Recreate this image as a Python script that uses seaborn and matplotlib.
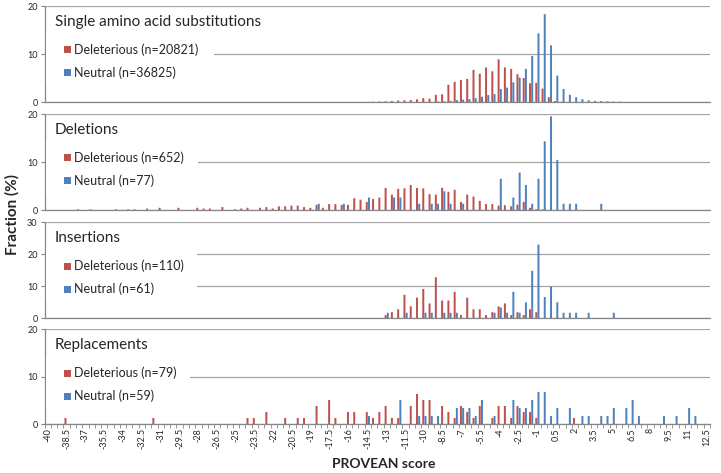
import numpy as np
import pandas as pd
import seaborn as sns
import matplotlib.pyplot as plt
from matplotlib.patches import Rectangle

# PROVEAN score bins (0.5 wide), labelled every 3rd bin
scores = np.arange(-40, 12.51, 0.5)
score_labels = [f"{s:g}" for s in scores]
tick_labels = score_labels[::3]

# Fraction (%) per bin (missing bins = 0)
sas_del = {-14: 0.05, -13.5: 0.1, -13: 0.15, -12.5: 0.2, -12: 0.3, -11.5: 0.35, -11: 0.4,
           -10.5: 0.55, -10: 0.8, -9.5: 0.7, -9: 1.5, -8.5: 1.6, -8: 3.6, -7.5: 4.2, -7: 4.6,
           -6.5: 4.8, -6: 6.7, -5.5: 5.9, -5: 7.2, -4.5: 6.4, -4: 8.9, -3.5: 7.2, -3: 6.9,
           -2.5: 5.8, -2: 5.0, -1.5: 3.9, -1: 4.0, -0.5: 2.8, 0: 1.0, 0.5: 0.2, 1: 0.05}
sas_neu = {-9: 0.1, -8.5: 0.15, -8: 0.25, -7.5: 0.4, -7: 0.5, -6.5: 0.6, -6: 0.8, -5.5: 1.1,
           -5: 1.45, -4.5: 1.65, -4: 2.7, -3.5: 3.0, -3: 4.1, -2.5: 5.1, -2: 6.9, -1.5: 9.6,
           -1: 14.3, -0.5: 18.3, 0: 11.8, 0.5: 5.5, 1: 2.7, 1.5: 1.5, 2: 1.0, 2.5: 0.6,
           3: 0.35, 3.5: 0.25, 4: 0.2, 4.5: 0.15, 5: 0.1, 5.5: 0.05}

del_del = {-37.5: 0.15, -36.5: 0.15, -34.5: 0.15, -33.5: 0.15, -33: 0.15, -32: 0.3, -31: 0.46,
           -29.5: 0.46, -28: 0.46, -27.5: 0.3, -27: 0.3, -26: 0.61, -25: 0.15, -24.5: 0.3,
           -24: 0.46, -23: 0.46, -22.5: 0.61, -22: 0.31, -21.5: 0.77, -21: 0.77, -20.5: 0.92,
           -20: 0.92, -19.5: 0.61, -19: 0.46, -18.5: 1.07, -18: 0.46, -17.5: 1.23, -17: 1.23,
           -16.5: 1.07, -16: 1.07, -15.5: 2.45, -15: 2.15, -14.5: 1.69, -14: 2.3, -13.5: 2.6,
           -13: 4.6, -12.5: 3.2, -12: 4.4, -11.5: 4.5, -11: 5.2, -10.5: 4.6, -10: 4.5,
           -9.5: 3.3, -9: 3.2, -8.5: 4.6, -8: 3.8, -7.5: 4.2, -7: 1.7, -6.5: 3.2, -6: 2.8,
           -5.5: 1.9, -5: 1.23, -4.5: 1.23, -4: 0.92, -3.5: 1.0, -3: 0.77, -2.5: 1.1,
           -2: 1.69, -1.5: 0.46, -1: 0.15, -0.5: 0.15}
del_neu = {-18.5: 1.3, -16.5: 1.3, -14.5: 2.6, -12.5: 2.6, -12: 2.6, -10.5: 1.3, -9.5: 1.3,
           -9: 1.3, -8.5: 3.9, -8: 1.3, -7: 1.3, -4: 6.5, -3: 2.6, -2.5: 7.8, -2: 5.2,
           -1.5: 1.3, -1: 6.5, -0.5: 14.3, 0: 19.5, 0.5: 10.4, 1: 1.3, 1.5: 1.3, 2: 1.3, 4: 1.3}

ins_del = {-13: 0.91, -12.5: 1.82, -12: 2.73, -11.5: 7.27, -11: 3.64, -10.5: 6.36, -10: 9.09,
           -9.5: 4.55, -9: 12.73, -8.5: 5.45, -8: 5.45, -7.5: 8.18, -7: 0.91, -6.5: 6.36,
           -6: 2.73, -5.5: 2.73, -5: 0.91, -4.5: 1.82, -4: 3.64, -3.5: 4.55, -3: 0.91,
           -2.5: 1.82, -2: 0.91, -1.5: 2.73, -1: 1.82}
ins_neu = {-13: 1.64, -11.5: 1.64, -10: 1.64, -9.5: 1.64, -8.5: 1.64, -8: 1.64, -7.5: 1.64,
           -4.5: 1.64, -4: 3.28, -3.5: 1.64, -3: 8.2, -2.5: 1.64, -2: 4.92, -1.5: 14.75,
           -1: 22.95, -0.5: 6.56, 0: 9.84, 0.5: 4.92, 1: 1.64, 1.5: 1.64, 2: 1.64, 3: 1.64,
           5: 1.64}

rep_del = {-38.5: 1.27, -31.5: 1.27, -24: 1.27, -23.5: 1.27, -22.5: 2.53, -21: 1.27, -20: 1.27,
           -19.5: 1.27, -18.5: 3.8, -17.5: 5.06, -17: 1.27, -16: 2.53, -15.5: 2.53,
           -14.5: 2.53, -14: 1.27, -13.5: 2.53, -13: 3.8, -12.5: 1.27, -12: 1.27, -11: 3.8,
           -10.5: 6.33, -10: 5.06, -9.5: 5.06, -8.5: 3.8, -8: 2.53, -7.5: 1.27, -7: 3.8,
           -6.5: 2.53, -6: 1.27, -5.5: 3.8, -4.5: 1.27, -4: 3.8, -3.5: 3.8, -3: 1.27,
           -2.5: 3.8, -2: 2.53, -1.5: 2.53, -1: 1.27, 2: 1.27}
rep_neu = {-14.5: 1.69, -12: 5.07, -10.5: 1.69, -10: 1.69, -9.5: 1.69, -9: 1.69, -7.5: 3.38,
           -7: 3.38, -6.5: 3.38, -6: 1.69, -5.5: 5.07, -4.5: 1.69, -3: 5.07, -2.5: 3.38,
           -2: 3.38, -1.5: 5.07, -1: 6.76, -0.5: 6.76, 0: 1.69, 0.5: 3.38, 1.5: 3.38,
           2.5: 1.69, 3: 1.69, 4: 1.69, 4.5: 1.69, 5: 3.38, 6: 3.38, 6.5: 5.07, 7: 1.69,
           9: 1.69, 10: 1.69, 11: 3.38, 11.5: 1.69}

titles = ["Single amino acid substitutions", "Deletions", "Insertions", "Replacements"]
n_del = [20821, 652, 110, 79]
n_neu = [36825, 77, 61, 59]
y_max = [20, 20, 30, 20]

RED = "#C0504D"
BLUE = "#4F81BD"
GRID = "#A6A6A6"
AXIS = "#868686"

sns.set_style("white")
plt.rcParams['font.family'] = ['Lato', 'DejaVu Sans']

W, H = 721, 473
fig = plt.figure(figsize=(W / 100, H / 100), dpi=100)

left_px, right_px = 44.6, 710.0
axw = right_px - left_px
tops = [6, 114, 222, 329]
heights = [96, 96, 96, 95]
box_right = [214, 198, 197, 190]   # where the legend's white box ends

series = [(sas_del, sas_neu), (del_del, del_neu), (ins_del, ins_neu), (rep_del, rep_neu)]

for k, (d_del, d_neu) in enumerate(series):
    top, h = tops[k], heights[k]
    ax = fig.add_axes([left_px / W, 1 - (top + h) / H, axw / W, h / H])

    df = pd.DataFrame({
        "score": score_labels * 2,
        "frac": [d_del.get(s, 0.0) for s in scores] + [d_neu.get(s, 0.0) for s in scores],
        "kind": ["Deleterious"] * len(scores) + ["Neutral"] * len(scores),
    })
    sns.barplot(data=df, x="score", y="frac", hue="kind", order=score_labels,
                hue_order=["Deleterious", "Neutral"], palette=[RED, BLUE],
                saturation=1, width=0.7, gap=0.1, errorbar=None, legend=False, ax=ax,
                linewidth=0, edgecolor="none")
    for bar in ax.patches:
        bar.set_snap(False)

    ax.set_xlim(-0.5, len(scores) - 0.5)
    ax.set_ylim(0, y_max[k])
    ax.set_yticks(range(0, y_max[k] + 1, 10))
    ax.yaxis.grid(True, color=GRID, lw=0.9)
    ax.set_axisbelow(True)
    for side in ["top", "right"]:
        ax.spines[side].set_visible(False)
    for side in ["left", "bottom"]:
        ax.spines[side].set_color(AXIS)
        ax.spines[side].set_linewidth(0.9)
    ax.tick_params(axis="y", length=3, color=AXIS, labelsize=6.5, pad=2, left=True)
    ax.set_xlabel("")
    ax.set_ylabel("")

    if k == 3:
        ax.set_xticks(range(0, len(scores), 3))
        ax.set_xticklabels(tick_labels, rotation=90, fontsize=6.5)
        ax.set_xticks(np.arange(-0.5, len(scores), 1), minor=True)
        ax.tick_params(axis="x", which="major", length=0, pad=3)
        ax.tick_params(axis="x", which="minor", length=3, color=AXIS, bottom=True)
    else:
        ax.set_xticks([])

    # legend block (white box hides the gridlines behind it)
    def fx(px):
        return (px - left_px) / axw

    def fy(py):
        return 1 - (py - top) / h

    ax.add_patch(Rectangle((fx(45.5), fy(top + 80)), fx(box_right[k]) - fx(45.5), 54 / h,
                           transform=ax.transAxes, facecolor="white", edgecolor="none",
                           zorder=3))
    ax.text(fx(55), fy(top + 16), titles[k], transform=ax.transAxes, fontsize=11,
            va="center", ha="left", zorder=4)
    for j, (lab, n, col) in enumerate([("Deleterious", n_del[k], RED),
                                       ("Neutral", n_neu[k], BLUE)]):
        yc = top + 44 + 23 * j
        ax.add_patch(Rectangle((fx(64), fy(yc + 3.5)), 7 / axw, 7 / h,
                               transform=ax.transAxes, facecolor=col, edgecolor="none",
                               zorder=4))
        ax.text(fx(74.5), fy(yc), f"{lab} (n={n})", transform=ax.transAxes, fontsize=9,
                va="center", ha="left", zorder=4)

fig.text(12 / W, 1 - 214 / H, "Fraction (%)", rotation=90, fontsize=11,
         fontweight="bold", ha="center", va="center")
fig.text(384 / W, 1 - 464 / H, "PROVEAN score", fontsize=10, fontweight="bold",
         ha="center", va="center")

fig.savefig("out.png", dpi=100)
